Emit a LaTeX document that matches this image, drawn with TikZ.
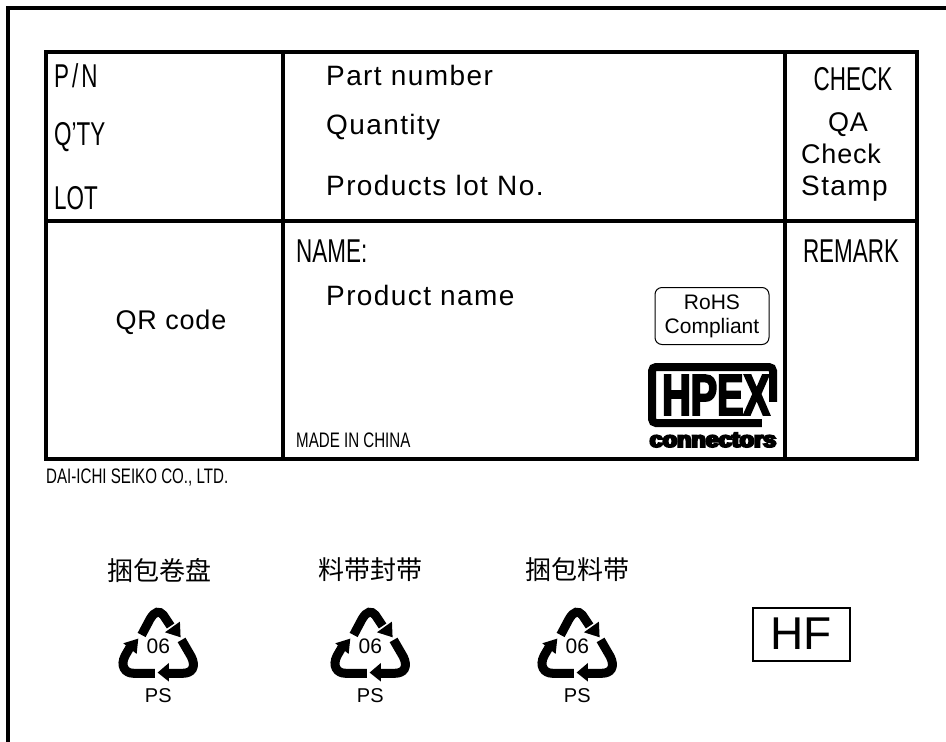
\documentclass[tikz,border=0pt]{standalone}
\usepackage{fontspec}
\setmainfont{Liberation Sans}
\newfontfamily\cond[FakeStretch=0.68]{Liberation Sans}
\newfontfamily\condsm[FakeStretch=0.72]{Liberation Sans}
\newfontfamily\wide[LetterSpace=5]{Liberation Sans}
\newfontfamily\tight[LetterSpace=3]{Liberation Sans}
\newfontfamily\heavy[FakeStretch=0.62,FakeBold=3,Ligatures=NoCommon]{Liberation Sans Bold}
\newfontfamily\heavier[FakeStretch=0.62,FakeBold=7,Ligatures=NoCommon]{Liberation Sans Bold}
\newfontfamily\cjk{Noto Sans CJK SC}
\newcommand{\fs}[1]{\fontsize{#1}{#1}\selectfont}
\tikzset{
  rule/.style={draw=black,line width=4pt,line cap=rect},
  frameline/.style={draw=black,line width=3.5pt},
  lab/.style={inner sep=0pt,anchor=base west,font=\cond\fs{33}},
  val/.style={inner sep=0pt,anchor=base west,font=\wide\fs{28}},
  valt/.style={inner sep=0pt,anchor=base west,font=\tight\fs{27}},
  small/.style={inner sep=0pt,anchor=base west,font=\condsm\fs{21}},
  cn/.style={inner sep=0pt,anchor=center,font=\cjk\fs{26}},
  band/.style={draw=black,line width=9pt},
  pics/recycle/.style={code={
    \begin{scope}[x=0.333pt,y=-0.333pt]
    \draw[band] (125,135) -- (150,88) .. controls (165,62) and (178,62) .. (190,75) -- (212,108);
    \fill (242,142) -- (195,127) -- (240,95) -- cycle;
    \draw[band] (245,150) -- (274,200) .. controls (290,232) and (275,250) .. (250,250) -- (205,250);
    \fill (173,248) -- (207,219) -- (207,275) -- cycle;
    \draw[band] (165,250) -- (100,250) .. controls (75,250) and (60,228) .. (75,198) -- (90,172);
    \fill (115,146) -- (110,192) -- (70,160) -- cycle;
    \node[inner sep=0pt,font=\fs{21}] (-num) at (175,170) {06};
    \node[inner sep=0pt,font=\fs{20}] (-ps) at (175,318) {PS};
    \end{scope}
  }}
}
\begin{document}
\begin{tikzpicture}[x=1pt,y=-1pt]
\useasboundingbox (0,0) rectangle (946,742);
\coordinate (ftl) at (8,8);
\coordinate (fbl) at (8,742);
\coordinate (ftr) at (946,8);
\draw[frameline] (fbl) -- (ftl) -- (ftr);
% table
\coordinate (tl) at (46,52);
\coordinate (br) at (917,459);
\draw[rule] (tl) rectangle (br);
\coordinate (a1) at (283,52); \coordinate (a2) at (283,459);
\coordinate (b1) at (785,52); \coordinate (b2) at (785,459);
\coordinate (c1) at (46,221); \coordinate (c2) at (917,221);
\draw[rule] (a1) -- (a2);
\draw[rule] (b1) -- (b2);
\draw[rule] (c1) -- (c2);
% labels
\node[lab] (pn) at (54,87) {P\kern3pt/\kern3pt N};
\node[lab] (qty) at (54,145) {Q’TY};
\node[lab] (lot) at (54,209) {LOT};
\node[val] (part) at (326,85) {Part number};
\node[val] (quan) at (326,134) {Quantity};
\node[val] (plot) at (326,195) {Products lot No.};
\node[lab,anchor=base] (chk) at (853,90) {CHECK};
\node[valt,anchor=base] (qa) at (848,131) {QA};
\node[valt] (chk2) at (801,163) {Check};
\node[val] (stamp) at (801,195) {Stamp};
\node[lab,anchor=base] (rem) at (851,262) {REMARK};
\node[lab] (nm) at (296,262) {NAME:};
\node[val] (pname) at (326,305) {Product name};
\node[valt,anchor=base] (qr) at (171,329) {QR code};
\node[small] (made) at (296,447) {MADE IN CHINA};
\node[small] (dai) at (46,483) {DAI-ICHI SEIKO CO., LTD.};
% RoHS
\node[draw=black,line width=1pt,rounded corners=7pt,minimum width=114pt,minimum height=57pt,inner sep=0pt,align=center,font=\fontsize{21}{24}\selectfont] (rohs) at (712,316) {RoHS\\Compliant};
% logo
\draw[black,line width=8pt,rounded corners=4pt] (652,367) rectangle (773,423);
\fill[white] (762,402) rectangle (782,430);
\node[inner sep=0pt,anchor=base,font=\heavy\fs{58},xscale=1.1] (hpex) at (716,415) {HPEX};
\node[inner sep=0pt,anchor=base,font=\heavier\fs{22},xscale=1.72] (conn) at (713,447) {connectors};
% marks
\node[cn] (c1t) at (159,570) {捆包卷盘};
\node[cn] (c2t) at (370,570) {料带封带};
\node[cn] (c3t) at (577,570) {捆包料带};
\pic (r1) at (100,590) {recycle};
\pic (r2) at (312,590) {recycle};
\pic (r3) at (519,590) {recycle};
\node[draw=black,line width=2pt,minimum width=97pt,minimum height=53pt,inner sep=0pt,font=\fs{46}] (hf) at (801,634) {HF};
\end{tikzpicture}
\end{document}
